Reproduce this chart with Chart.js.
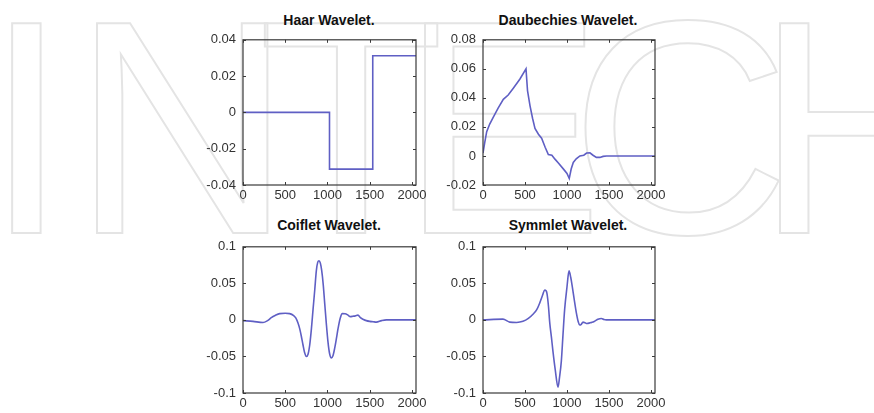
<!DOCTYPE html>
<html><head><meta charset="utf-8">
<script src="https://cdn.jsdelivr.net/npm/chart.js@4.4.1/dist/chart.umd.min.js"></script>
<style>
html,body{margin:0;padding:0;background:#fff}
body{width:874px;height:413px;overflow:hidden;position:relative;font-family:"Liberation Sans",Arial,sans-serif}
.wm{position:absolute;top:-25px;font-size:305px;line-height:305px;color:transparent;-webkit-text-stroke:2px #e4e4e4;font-family:"Liberation Sans",Arial,sans-serif;white-space:nowrap}
.box{position:absolute}
.title{position:absolute;font-weight:bold;font-size:14px;line-height:16px;text-align:center;color:#111;width:200px;font-family:"Liberation Sans",Arial,sans-serif}
</style></head><body>
<div class="wm" style="left:-16px">I</div>
<div class="wm" style="left:72px">N</div>
<div class="wm" style="left:258px">T</div>
<div class="wm" style="left:400px">E</div>
<div class="wm" style="left:570px">C</div>
<div class="wm" style="left:755px">H</div>

<div class="title" style="left:229px;top:12px">Haar Wavelet.</div>
<div class="title" style="left:468px;top:12px">Daubechies Wavelet.</div>
<div class="title" style="left:229px;top:217px">Coiflet Wavelet.</div>
<div class="title" style="left:468px;top:217px">Symmlet Wavelet.</div>

<div class="box" style="left:203px;top:25px;width:227px;height:182px"><canvas id="c1"></canvas></div>
<div class="box" style="left:443px;top:25px;width:226px;height:182px"><canvas id="c2"></canvas></div>
<div class="box" style="left:203px;top:232px;width:227px;height:183px"><canvas id="c3"></canvas></div>
<div class="box" style="left:443px;top:232px;width:226px;height:183px"><canvas id="c4"></canvas></div>
<script>
// ---- data ----
const xTicks = [0, 500, 1000, 1500, 2000];
const xTickLabels = ['0', '500', '1000', '1500', '2000'];

const haarX = [0, 1024, 1024, 1536, 1536, 2048];
const haarY = [0, 0, -0.03125, -0.03125, 0.03125, 0.03125];
const haarTicks = [-0.04, -0.02, 0, 0.02, 0.04];
const haarTickLabels = ['-0.04', '-0.02', '0', '0.02', '0.04'];

const daubX = [0, 20, 44, 80, 123, 180, 242, 300, 361, 440, 512, 530, 560, 590, 619, 660, 698, 740, 778, 820, 857, 900, 956, 1000, 1027, 1050, 1075, 1110, 1154, 1200, 1234, 1273, 1310, 1350, 1392, 1430, 1471, 2048];
const daubY = [0.002, 0.009, 0.0167, 0.022, 0.0267, 0.033, 0.039, 0.042, 0.0467, 0.053, 0.060, 0.045, 0.0345, 0.026, 0.019, 0.015, 0.0122, 0.006, 0.001, 0.0005, -0.0022, -0.005, -0.0089, -0.012, -0.0155, -0.009, -0.0045, -0.002, 0, 0.0005, 0.002, 0.0022, 0.0005, -0.001, -0.001, -0.0003, 0, 0];
const daubTicks = [-0.02, 0, 0.02, 0.04, 0.06, 0.08];
const daubTickLabels = ['-0.02', '0', '0.02', '0.04', '0.06', '0.08'];

const coifX = [0, 118, 237, 290, 335, 380, 434, 500, 552, 600, 623, 650, 671, 690, 710, 730, 750, 770, 789, 810, 829, 850, 868, 885, 900, 915, 931, 950, 967, 985, 1006, 1025, 1046, 1065, 1085, 1105, 1125, 1150, 1176, 1210, 1243, 1270, 1302, 1330, 1361, 1390, 1420, 1460, 1500, 1540, 1578, 1640, 1697, 2048];
const coifY = [-0.001, -0.002, -0.0035, -0.001, 0.003, 0.006, 0.0086, 0.009, 0.0086, 0.006, 0.003, -0.004, -0.012, -0.022, -0.034, -0.045, -0.050, -0.047, -0.035, -0.012, 0.014, 0.042, 0.067, 0.079, 0.081, 0.078, 0.068, 0.048, 0.023, -0.003, -0.030, -0.046, -0.052, -0.049, -0.039, -0.026, -0.012, 0.002, 0.0086, 0.0085, 0.0065, 0.0045, 0.005, 0.0055, 0.0065, 0.003, 0.001, -0.001, -0.002, -0.0025, -0.003, -0.001, 0, 0];

const symX = [0, 238, 318, 400, 476, 540, 595, 640, 675, 710, 734, 750, 762, 780, 794, 815, 833, 860, 893, 912, 933, 950, 972, 1000, 1024, 1045, 1064, 1090, 1111, 1135, 1151, 1170, 1191, 1215, 1238, 1275, 1310, 1340, 1369, 1409, 1440, 1468, 2048];
const symY = [0, 0.001, -0.003, -0.0035, -0.002, 0.002, 0.0077, 0.014, 0.023, 0.034, 0.041, 0.040, 0.036, 0.018, -0.003, -0.024, -0.043, -0.068, -0.092, -0.078, -0.056, -0.025, 0.014, 0.045, 0.067, 0.058, 0.045, 0.025, 0.010, -0.003, -0.007, -0.006, -0.003, -0.004, -0.005, -0.004, -0.003, -0.001, 0.001, 0.002, 0.0005, 0, 0];

const wTicks = [-0.1, -0.05, 0, 0.05, 0.1];
const wTickLabels = ['-0.1', '-0.05', '0', '0.05', '0.1'];

// ---- drawing ----
const LINE = '#5f5fc4';
const tickFont = {family: '"Liberation Sans Narrow","Liberation Sans",Arial,sans-serif', size: 13};

const framePlugin = {
  id: 'frame',
  afterDatasetsDraw(chart) {
    const {ctx, chartArea: a, scales: {x, y}} = chart;
    ctx.save();
    ctx.strokeStyle = '#3a3a3a';
    ctx.lineWidth = 1.2;
    ctx.strokeRect(a.left, a.top, a.right - a.left, a.bottom - a.top);
    ctx.lineWidth = 1;
    ctx.beginPath();
    const L = 3;
    x.ticks.forEach(t => {
      const p = Math.round(x.getPixelForValue(t.value)) + 0.5;
      ctx.moveTo(p, a.bottom); ctx.lineTo(p, a.bottom - L);
      ctx.moveTo(p, a.top); ctx.lineTo(p, a.top + L);
    });
    y.ticks.forEach(t => {
      const p = Math.round(y.getPixelForValue(t.value)) + 0.5;
      ctx.moveTo(a.left, p); ctx.lineTo(a.left + L, p);
      ctx.moveTo(a.right, p); ctx.lineTo(a.right - L, p);
    });
    ctx.stroke();
    ctx.restore();
  }
};

function makeChart(id, xs, ys, yTicks, yLabels, smooth) {
  const pts = xs.map((v, i) => ({x: v, y: ys[i]}));
  new Chart(document.getElementById(id), {
    type: 'scatter',
    data: {datasets: [{
      data: pts, showLine: true, borderColor: LINE, borderWidth: 1.6,
      pointRadius: 0, fill: false,
      cubicInterpolationMode: smooth ? 'monotone' : 'default', tension: 0
    }]},
    options: {
      responsive: true, maintainAspectRatio: false, animation: false,
      layout: {padding: {top: 10, right: 14, left: 0, bottom: 0}},
      plugins: {legend: {display: false}, tooltip: {enabled: false}},
      scales: {
        x: {
          type: 'linear', min: 0, max: 2048,
          grid: {display: false, drawTicks: false}, border: {display: false},
          afterBuildTicks: s => { s.ticks = xTicks.map(v => ({value: v})); },
          afterFit: s => { s.height = 22; },
          ticks: {font: tickFont, color: '#333', padding: 3, maxRotation: 0,
                  callback: (v, i) => xTickLabels[i]}
        },
        y: {
          type: 'linear', min: yTicks[0], max: yTicks[yTicks.length - 1],
          grid: {display: false, drawTicks: false}, border: {display: false},
          afterBuildTicks: s => { s.ticks = yTicks.map(v => ({value: v})); },
          afterFit: s => { s.width = 40; },
          ticks: {font: tickFont, color: '#333', padding: 7,
                  callback: (v, i) => yLabels[i]}
        }
      }
    },
    plugins: [framePlugin]
  });
}

makeChart('c1', haarX, haarY, haarTicks, haarTickLabels, false);
makeChart('c2', daubX, daubY, daubTicks, daubTickLabels, false);
makeChart('c3', coifX, coifY, wTicks, wTickLabels, true);
makeChart('c4', symX, symY, wTicks, wTickLabels, true);
</script>
</body></html>
